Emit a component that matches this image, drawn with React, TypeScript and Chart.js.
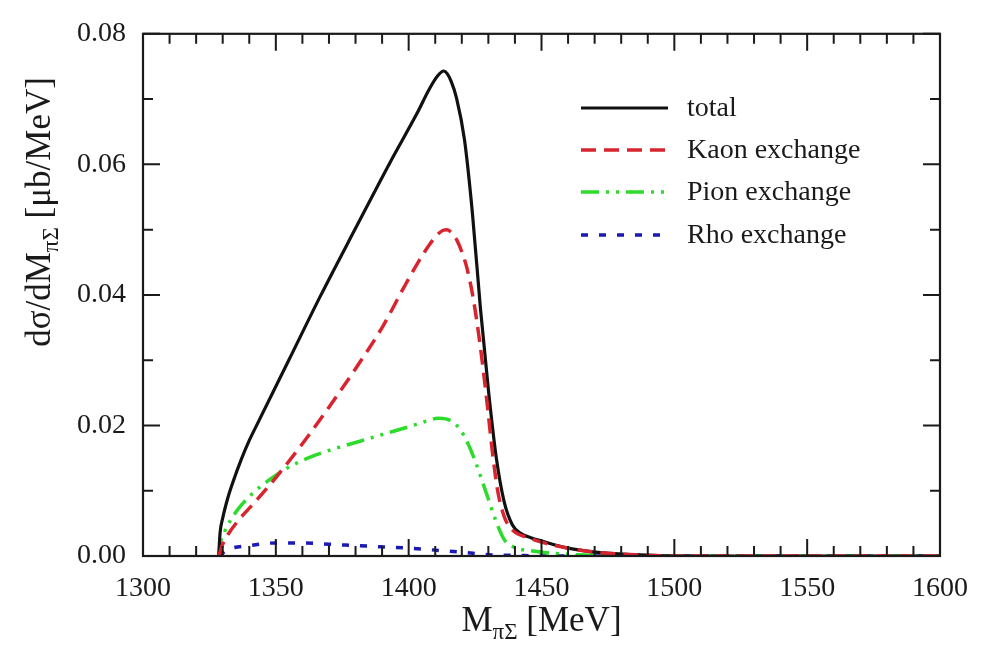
import { useEffect, useRef } from "react";
import { Chart, registerables } from "chart.js";

Chart.register(...registerables);

// Invariant mass of the πΣ pair [MeV] and dσ/dM [μb/MeV] for each contribution
const totalMass = [1328.5, 1329, 1330, 1332, 1334, 1337, 1340, 1343, 1355, 1367, 1380, 1393, 1403, 1408, 1411, 1413.2, 1414.5, 1416, 1418, 1421, 1424, 1427, 1430, 1433, 1436, 1439, 1442, 1446, 1450, 1460, 1470, 1485, 1500, 1600];
const totalValue = [0, 0.0035, 0.0058, 0.009, 0.0115, 0.0148, 0.0177, 0.0202, 0.0301, 0.04, 0.0502, 0.0603, 0.0677, 0.0717, 0.0736, 0.0743, 0.0739, 0.0727, 0.0702, 0.0638, 0.0525, 0.038, 0.0255, 0.015, 0.0082, 0.0048, 0.0035, 0.0028, 0.0023, 0.0012, 0.0006, 0.0002, 0, 0];

const kaonMass = [1328.5, 1330, 1332, 1336, 1342, 1350, 1360, 1370, 1380, 1390, 1398, 1404, 1408, 1411, 1413, 1414.5, 1416, 1418, 1420, 1422, 1424.5, 1427, 1429.5, 1431.5, 1433.5, 1436, 1439, 1445, 1452, 1460, 1470, 1485, 1500, 1600];
const kaonValue = [0, 0.0018, 0.0033, 0.0055, 0.0082, 0.012, 0.0172, 0.0228, 0.0287, 0.035, 0.041, 0.0453, 0.0478, 0.0493, 0.0499, 0.05, 0.0496, 0.0485, 0.0466, 0.044, 0.039, 0.032, 0.0235, 0.016, 0.01, 0.006, 0.004, 0.0028, 0.0019, 0.0012, 0.0006, 0.0002, 0, 0];

const pionMass = [1328.5, 1329, 1330.5, 1333, 1336, 1341, 1347, 1354, 1362, 1371, 1381, 1390, 1400, 1407, 1411, 1414, 1417, 1419.5, 1422, 1425, 1429, 1433, 1436, 1440, 1446, 1455, 1470, 1490, 1600];
const pionValue = [0, 0.0018, 0.0035, 0.0055, 0.0073, 0.0095, 0.0115, 0.0134, 0.015, 0.0163, 0.0175, 0.0186, 0.0198, 0.0207, 0.0211, 0.021, 0.0204, 0.0193, 0.0175, 0.0146, 0.0099, 0.0052, 0.0025, 0.0013, 0.0008, 0.0004, 0.0001, 0, 0];

const rhoMass = [1328.5, 1332, 1340, 1350, 1360, 1370, 1380, 1390, 1400, 1410, 1420, 1430, 1440, 1450, 1600];
const rhoValue = [0, 0.001, 0.0016, 0.002, 0.002, 0.0018, 0.0016, 0.0014, 0.0012, 0.0009, 0.0006, 0.0002, 0.0001, 0, 0];

const seriesLabels = ["total", "Kaon exchange", "Pion exchange", "Rho exchange"];
const seriesColors = ["#111111", "#d8242f", "#2bdc2b", "#1a1ab4"];
const seriesDashes: number[][] = [[], [15, 8], [18, 7, 3, 7, 3, 7], [7, 11]];
const seriesWidths = [3.2, 3.5, 3.5, 3.5];

const xMajorStep = 50;
const xMinorStep = 10;
const yMajorStep = 0.02;
const yMinorStep = 0.01;

const SERIF = "'Liberation Serif', 'DejaVu Serif', serif";

function pairs(xs: number[], ys: number[]) {
  return xs.map((x, i) => ({ x, y: ys[i] }));
}

// Frame, inward ticks on all four sides, axis titles with subscripts, and the legend
const decorations = {
  id: "decorations",
  afterDraw(chart: any) {
    const { ctx, chartArea, scales } = chart;
    const { left, right, top, bottom } = chartArea;
    const xs = scales.x;
    const ys = scales.y;
    ctx.save();
    ctx.strokeStyle = "#1a1a1a";
    ctx.lineWidth = 2.2;
    ctx.strokeRect(left, top, right - left, bottom - top);

    const majorLen = 17;
    const minorLen = 10;
    ctx.lineWidth = 2;
    ctx.beginPath();
    for (let v = xs.min; v <= xs.max + 1e-9; v += xMinorStep) {
      const px = xs.getPixelForValue(v);
      const major = Math.abs(v / xMajorStep - Math.round(v / xMajorStep)) < 1e-6;
      const len = major ? majorLen : minorLen;
      ctx.moveTo(px, bottom);
      ctx.lineTo(px, bottom - len);
      ctx.moveTo(px, top);
      ctx.lineTo(px, top + len);
    }
    for (let v = ys.min; v <= ys.max + 1e-9; v += yMinorStep) {
      const py = ys.getPixelForValue(v);
      const major = Math.abs(v / yMajorStep - Math.round(v / yMajorStep)) < 1e-6;
      const len = major ? majorLen : minorLen;
      ctx.moveTo(left, py);
      ctx.lineTo(left + len, py);
      ctx.moveTo(right, py);
      ctx.lineTo(right - len, py);
    }
    ctx.stroke();

    ctx.fillStyle = "#1a1a1a";
    ctx.textBaseline = "alphabetic";
    ctx.textAlign = "left";
    const big = `35px ${SERIF}`;
    const small = `23px ${SERIF}`;

    // x-axis title: M_πΣ [MeV]
    {
      const base = 631;
      ctx.font = big;
      const wM = ctx.measureText("M").width;
      const wRest = ctx.measureText(" [MeV]").width;
      ctx.font = small;
      const wSub = ctx.measureText("πΣ").width;
      const total = wM + wSub + wRest;
      let x0 = (left + right) / 2 - total / 2;
      ctx.font = big;
      ctx.fillText("M", x0, base);
      x0 += wM;
      ctx.font = small;
      ctx.fillText("πΣ", x0, base + 8);
      x0 += wSub;
      ctx.font = big;
      ctx.fillText(" [MeV]", x0, base);
    }

    // y-axis title: dσ/dM_πΣ [μb/MeV]
    {
      ctx.save();
      ctx.translate(50, 212);
      ctx.rotate(-Math.PI / 2);
      ctx.font = big;
      const w1 = ctx.measureText("dσ/dM").width;
      const w3 = ctx.measureText(" [μb/MeV]").width;
      ctx.font = small;
      const w2 = ctx.measureText("πΣ").width;
      let x0 = -(w1 + w2 + w3) / 2;
      ctx.font = big;
      ctx.fillText("dσ/dM", x0, 0);
      x0 += w1;
      ctx.font = small;
      ctx.fillText("πΣ", x0, 8);
      x0 += w2;
      ctx.font = big;
      ctx.fillText(" [μb/MeV]", x0, 0);
      ctx.restore();
    }

    // legend
    const rowY = [108, 150, 192, 235];
    ctx.font = `28px ${SERIF}`;
    ctx.textBaseline = "middle";
    seriesLabels.forEach((label, i) => {
      ctx.save();
      ctx.strokeStyle = seriesColors[i];
      ctx.lineWidth = seriesWidths[i];
      ctx.setLineDash(seriesDashes[i]);
      ctx.beginPath();
      ctx.moveTo(581, rowY[i]);
      ctx.lineTo(668, rowY[i]);
      ctx.stroke();
      ctx.restore();
      ctx.fillStyle = "#1a1a1a";
      ctx.fillText(label, 687, rowY[i] + 1);
    });
    ctx.restore();
  },
};

export default function App() {
  const canvasRef = useRef<HTMLCanvasElement | null>(null);

  useEffect(() => {
    const canvas = canvasRef.current;
    if (!canvas) return;
    const series = [
      pairs(totalMass, totalValue),
      pairs(kaonMass, kaonValue),
      pairs(pionMass, pionValue),
      pairs(rhoMass, rhoValue),
    ];
    const chart = new Chart(canvas, {
      type: "line",
      data: {
        datasets: series.map((data, i) => ({
          label: seriesLabels[i],
          data,
          borderColor: seriesColors[i],
          borderWidth: seriesWidths[i],
          borderDash: seriesDashes[i],
          pointRadius: 0,
          fill: false,
          cubicInterpolationMode: "monotone" as const,
          order: i === 1 ? 0 : i + 1,
        })),
      },
      options: {
        animation: false,
        responsive: true,
        maintainAspectRatio: false,
        layout: { padding: { top: 21, right: 42, left: 0, bottom: 0 } },
        plugins: {
          legend: { display: false },
          tooltip: { enabled: false },
        },
        scales: {
          x: {
            type: "linear",
            min: 1300,
            max: 1600,
            grid: { display: false, drawTicks: false },
            border: { display: false },
            ticks: {
              stepSize: xMajorStep,
              padding: 16,
              color: "#1a1a1a",
              font: { family: SERIF, size: 28 },
              maxRotation: 0,
              callback: (v: any) => String(v),
            },
            afterFit: (scale: any) => {
              scale.height = 97;
            },
          },
          y: {
            type: "linear",
            min: 0,
            max: 0.08,
            grid: { display: false, drawTicks: false },
            border: { display: false },
            ticks: {
              stepSize: yMajorStep,
              padding: 17,
              color: "#1a1a1a",
              font: { family: SERIF, size: 28 },
              callback: (v: any) => Number(v).toFixed(2),
            },
            afterFit: (scale: any) => {
              scale.width = 143;
            },
          },
        },
      },
      plugins: [decorations],
    });
    return () => chart.destroy();
  }, []);

  return (
    <div style={{ position: "absolute", left: 0, top: 0, width: 984, height: 653, background: "#fff" }}>
      <canvas ref={canvasRef} />
    </div>
  );
}
